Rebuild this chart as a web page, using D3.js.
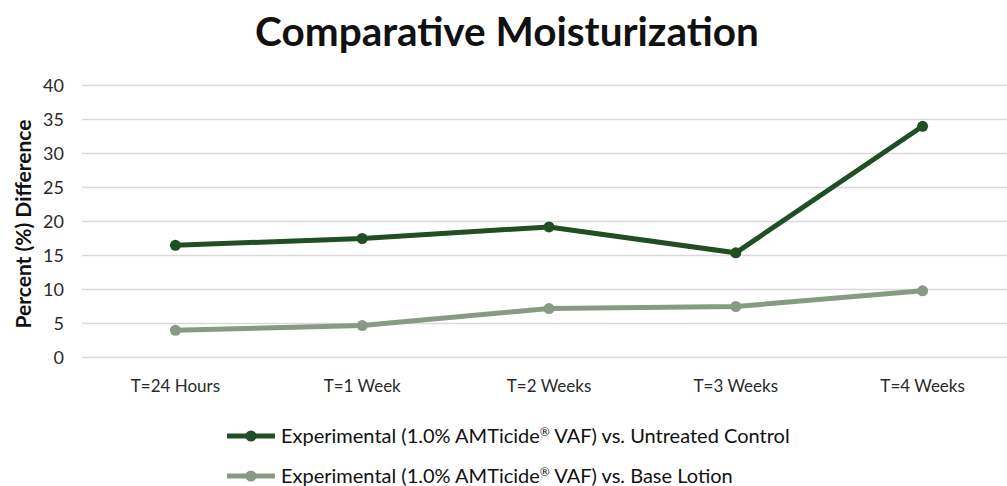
<!DOCTYPE html>
<html><head><meta charset="utf-8">
<script src="https://cdn.jsdelivr.net/npm/d3@7"></script>
<style>body{margin:0;background:#fff}svg{display:block}text{font-family:Lato,"Open Sans",sans-serif}</style>
</head><body><svg id="c" width="1007" height="486"></svg>
<script>
const categories = ["T=24 Hours","T=1 Week","T=2 Weeks","T=3 Weeks","T=4 Weeks"];
const untreated = [16.5,17.5,19.2,15.4,34.0];
const baseLotion = [4.0,4.7,7.2,7.5,9.8];
const yTicks = [0,5,10,15,20,25,30,35,40];
const seriesNames = ["Experimental (1.0% AMTicide\u00AE VAF) vs. Untreated Control","Experimental (1.0% AMTicide\u00AE VAF) vs. Base Lotion"];
const colors = ["#1f4f22","#879b84"];

const svg = d3.select("#c");
const x = d3.scaleBand().domain(categories).range([82,1016]);
const y = d3.scaleLinear().domain([0,40]).range([357.5,85.5]);

svg.append("g").selectAll("line").data(yTicks).join("line")
  .attr("x1",82).attr("x2",1016).attr("y1",d=>y(d)).attr("y2",d=>y(d))
  .attr("stroke","#d9d9d9").attr("stroke-width",1.3);

const yAxis = svg.append("g").attr("transform","translate(64,0)")
  .call(d3.axisLeft(y).tickValues(yTicks).tickSize(0).tickPadding(0));
yAxis.select(".domain").remove();
yAxis.selectAll("text").attr("font-size",18).attr("fill","#2a2a2a").attr("dy","0.35em");

const xAxis = svg.append("g").attr("transform","translate(0,377)")
  .call(d3.axisBottom(x).tickSize(0).tickPadding(0));
xAxis.select(".domain").remove();
xAxis.selectAll("text").attr("font-size",17).attr("fill","#2a2a2a").attr("dy","0.9em");

svg.append("text").attr("x",507).attr("y",46).attr("text-anchor","middle")
  .attr("font-size",40.5).attr("font-weight","bold").attr("fill","#111").text("Comparative Moisturization");

svg.append("text").attr("transform","translate(31,224) rotate(-90)").attr("text-anchor","middle")
  .attr("font-size",21).attr("font-weight","bold").attr("fill","#111").text("Percent (%) Difference");

const line = d3.line().x((d,i)=>x(categories[i])+x.bandwidth()/2).y(d=>y(d));
[baseLotion, untreated].forEach((s,k)=>{
  const c = k===0?colors[1]:colors[0];
  svg.append("path").datum(s).attr("d",line).attr("fill","none").attr("stroke",c).attr("stroke-width",5);
  svg.append("g").selectAll("circle").data(s).join("circle")
    .attr("cx",(d,i)=>x(categories[i])+x.bandwidth()/2).attr("cy",d=>y(d)).attr("r",5.5).attr("fill",c);
});

const leg = svg.append("g");
seriesNames.forEach((n,i)=>{
  const yy = 436 + i*40;
  leg.append("line").attr("x1",227).attr("x2",275).attr("y1",yy).attr("y2",yy).attr("stroke",colors[i]).attr("stroke-width",5);
  leg.append("circle").attr("cx",251).attr("cy",yy).attr("r",5.5).attr("fill",colors[i]);
  const t = leg.append("text").attr("x",281).attr("y",yy).attr("dy","0.35em").attr("font-size",20).attr("fill","#111");
  const parts = n.split("\u00AE");
  t.append("tspan").text(parts[0]);
  t.append("tspan").attr("font-size",12).attr("dy",-7).text("\u00AE");
  t.append("tspan").attr("dy",7).text(parts[1]);
});
</script></body></html>
